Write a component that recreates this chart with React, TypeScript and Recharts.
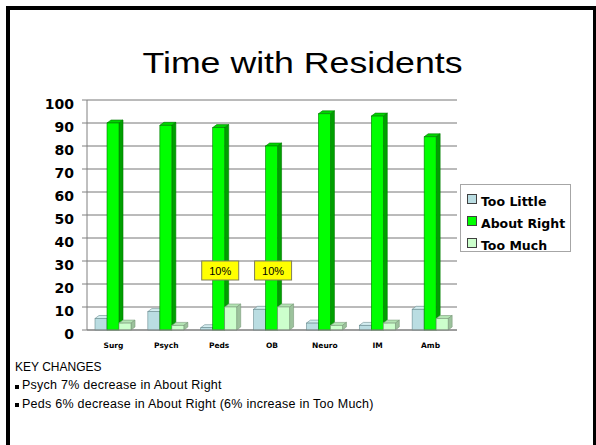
import { BarChart, Bar, XAxis, YAxis, CartesianGrid, Legend, LabelList } from "recharts";

// Survey: how residents rate the time spent with them, by rotation (%)
const categories = ["Surg", "Psych", "Peds", "OB", "Neuro", "IM", "Amb"];
const tooLittle = [5, 8, 1, 9, 3, 2, 9];
const aboutRight = [90, 89, 88, 80, 94, 93, 84];
const tooMuch = [3, 2, 10, 10, 2, 3, 5];
const yTicks = [0, 10, 20, 30, 40, 50, 60, 70, 80, 90, 100];
// rotations whose "Too Much" bar gets a yellow callout
const callouts = ["Peds", "OB"];
const keyChanges = [
  "Psych 7% decrease in About Right",
  "Peds 6% decrease in About Right (6% increase in Too Much)",
];

const series = [
  { key: "tooLittle", name: "Too Little", front: "#BADDE2", top: "#D4EDF0", side: "#8DB0B4", edge: "#6A8C90" },
  { key: "aboutRight", name: "About Right", front: "#00FF00", top: "#00D400", side: "#00A000", edge: "#007A00" },
  { key: "tooMuch", name: "Too Much", front: "#CCFFCC", top: "#B4E4B4", side: "#9CC29C", edge: "#7A9A7A" },
];

const data = categories.map((name, i) => ({
  name,
  tooLittle: tooLittle[i],
  aboutRight: aboutRight[i],
  tooMuch: tooMuch[i],
}));

const DX = 4;
const DY = 3;
const bold = "'DejaVu Sans', Verdana, sans-serif";
const plain = "'Liberation Sans', Arial, sans-serif";

// extruded column: top face, right face, then the front face
function makeBar(c: (typeof series)[number]) {
  return (props: any) => {
    const { x, y, width: w, height: h } = props;
    if (x == null || y == null) return <g />;
    return (
      <g>
        <polygon
          points={`${x},${y} ${x + DX},${y - DY} ${x + w + DX},${y - DY} ${x + w},${y}`}
          fill={c.top}
          stroke={c.edge}
          strokeWidth={0.6}
        />
        <polygon
          points={`${x + w},${y} ${x + w + DX},${y - DY} ${x + w + DX},${y + h - DY} ${x + w},${y + h}`}
          fill={c.side}
          stroke={c.edge}
          strokeWidth={0.6}
        />
        <rect x={x} y={y} width={w} height={h} fill={c.front} stroke={c.edge} strokeWidth={0.6} />
      </g>
    );
  };
}

function Callout(props: any) {
  const { x, y, width, value, index } = props;
  if (!callouts.includes(categories[index])) return null;
  const cx = x + width / 2 - 10.5;
  const cy = y - 36.5;
  return (
    <g>
      <rect x={cx - 18.5} y={cy - 9.5} width={37} height={19} fill="#FFFF00" stroke="#7F7F5A" strokeWidth={1} />
      <text x={cx} y={cy + 4} textAnchor="middle" fontFamily={plain} fontSize={11} fill="#000">
        {`${value}%`}
      </text>
    </g>
  );
}

function YTick(props: any) {
  const { x, y, payload } = props;
  return (
    <text x={x} y={y + 9} textAnchor="end" fontFamily={bold} fontWeight="bold" fontSize={14} fill="#000">
      {payload.value}
    </text>
  );
}

function LegendBox() {
  return (
    <div
      style={{
        boxSizing: "border-box",
        width: 111,
        height: 68,
        background: "#fff",
        border: "1px solid #A6A6A6",
        padding: "5px 0 0 6px",
      }}
    >
      {series.map((s) => (
        <div key={s.key} style={{ display: "flex", alignItems: "center", height: 22 }}>
          <span
            style={{
              display: "inline-block",
              width: 8,
              height: 8,
              marginRight: 4,
              marginTop: -4,
              background: s.front,
              border: "1px solid #404040",
            }}
          />
          <span style={{ fontFamily: bold, fontWeight: "bold", fontSize: 12.5, color: "#000" }}>{s.name}</span>
        </div>
      ))}
    </div>
  );
}

export default function App() {
  return (
    <div
      style={{
        position: "absolute",
        left: 0,
        top: 0,
        width: 596,
        height: 445,
        overflow: "hidden",
        background: "#fff",
      }}
    >
      <div
        style={{
          position: "absolute",
          left: 6,
          top: 6,
          width: 591,
          height: 443,
          border: "4px solid #000",
          boxSizing: "border-box",
        }}
      />
      <div
        style={{
          position: "absolute",
          left: 0,
          top: 48,
          width: 605,
          textAlign: "center",
          fontFamily: plain,
          fontSize: 29.5,
          lineHeight: "29.5px",
          color: "#000",
          transform: "scaleX(1.21)",
        }}
      >
        Time with Residents
      </div>

      <div style={{ position: "absolute", left: 0, top: 0 }}>
        <BarChart
          width={596}
          height={360}
          data={data}
          margin={{ top: 100, right: 139, bottom: 0, left: 27 }}
          barSize={12}
          barGap={0}
        >
          <CartesianGrid horizontal vertical={false} stroke="#777777" />
          <XAxis
            dataKey="name"
            height={30}
            tickLine={false}
            tickSize={0}
            tickMargin={13}
            axisLine={{ stroke: "#808080" }}
            tick={{ fontFamily: bold, fontWeight: "bold", fontSize: 7.5, fill: "#000" }}
            interval={0}
          />
          <YAxis
            width={60}
            domain={[0, 100]}
            ticks={yTicks}
            interval={0}
            tickSize={5}
            tickMargin={8}
            tickLine={{ stroke: "#808080" }}
            axisLine={{ stroke: "#808080" }}
            tick={YTick}
          />
          <Legend
            verticalAlign="middle"
            wrapperStyle={{ left: 460, top: 184, width: 111, height: 68 }}
            content={() => <LegendBox />}
          />
          {series.map((s) => (
            <Bar key={s.key} dataKey={s.key} name={s.name} fill={s.front} shape={makeBar(s)} isAnimationActive={false}>
              {s.key === "tooMuch" && <LabelList dataKey="tooMuch" content={Callout} />}
            </Bar>
          ))}
        </BarChart>
      </div>

      <div style={{ position: "absolute", left: 15, top: 361, fontFamily: plain, fontSize: 12, lineHeight: "12px", color: "#000" }}>
        KEY CHANGES
      </div>
      {keyChanges.map((t, i) => (
        <div
          key={t}
          style={{
            position: "absolute",
            left: 15,
            top: 379 + i * 18.5,
            fontFamily: plain,
            fontSize: 12.5,
            lineHeight: "12.5px",
            letterSpacing: 0.25,
            color: "#000",
            display: "flex",
            alignItems: "center",
          }}
        >
          <span style={{ display: "inline-block", width: 4, height: 4, background: "#000", marginRight: 3, marginTop: 3 }} />
          <span>{t}</span>
        </div>
      ))}
    </div>
  );
}
